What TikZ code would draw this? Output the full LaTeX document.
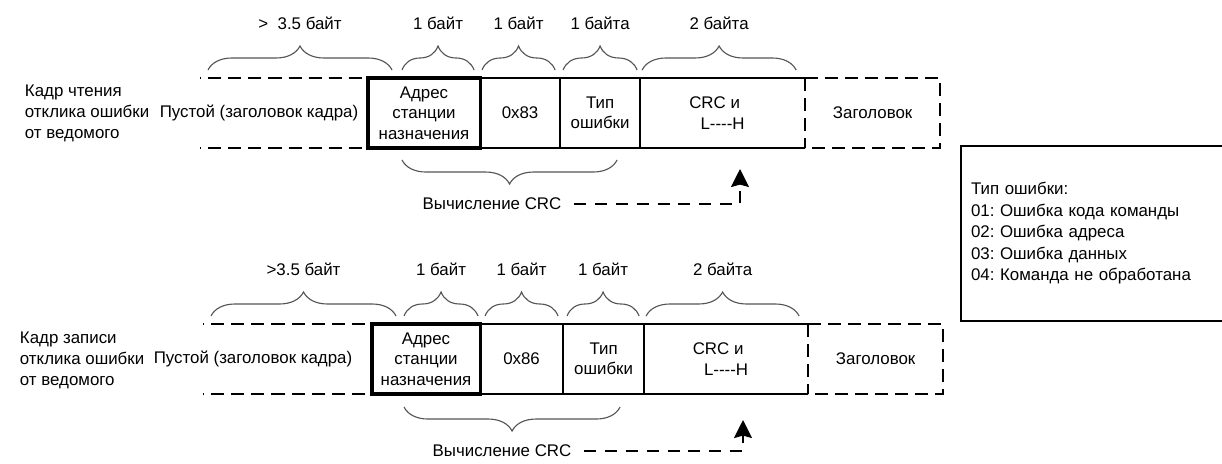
\documentclass[tikz,border=0pt]{standalone}
\usepackage{fontspec}
\setmainfont{Liberation Sans}[Ligatures=TeXOff]
\usetikzlibrary{arrows.meta, positioning, decorations.pathreplacing}
\definecolor{bracegrey}{HTML}{555555}

\begin{document}
\frenchspacing
\begin{tikzpicture}[x=0.025cm, y=-0.025cm,
    font=\fontsize{12}{14.5}\selectfont,
    cell/.style={minimum height=1.75cm, inner sep=0pt, outer sep=0pt, align=center},
    solidln/.style={line width=1.4pt},
    addrbox/.style={draw, line width=2.2pt},
    dashln/.style={line width=1.4pt, dash pattern=on 0.325cm off 0.175cm},
    gapdash/.style={dashln, dash phase=0.2875cm},
    bytebrace/.style={draw=bracegrey, line width=0.8pt, decorate,
                      decoration={brace, amplitude=0.6cm}},
    crcbrace/.style={bytebrace, decoration={brace, mirror, amplitude=0.6cm}},
    crcarrow/.style={line width=1.4pt, dash pattern=on 0.3cm off 0.22cm,
                     -{Stealth[length=0.45cm, width=0.45cm, inset=0.06cm]}},
    rowlabel/.style={anchor=west, align=left, font=\fontsize{12}{15}\selectfont},
    legendbox/.style={draw, line width=1.4pt, anchor=north west,
                      minimum width=6.75cm, minimum height=4.375cm,
                      text width=6.25cm, inner xsep=0pt, align=left,
                      font=\fontsize{12}{15.3}\selectfont}]
  \path[use as bounding box, clip] (0,0) rectangle (1222,463);

  % read frame
  \node[rowlabel] (r1name) at (20,113) {Кадр чтения\\отклика ошибки\\от ведомого};
  \node[cell, minimum width=4.2cm] (r1gap) at (284,113) {};
  \node (r1empty) at (259,113) {Пустой (заголовок кадра)};
  \node[cell, addrbox, minimum width=2.8cm, right=0pt of r1gap] (r1addr) {Адрес\\станции\\назначения};
  \node[cell, draw, solidln, minimum width=2cm, right=0pt of r1addr] (r1func) {0x83};
  \node[cell, draw, solidln, minimum width=2cm, right=0pt of r1func] (r1err) {Тип\\ошибки};
  \node[cell, minimum width=4.125cm, right=0pt of r1err] (r1crc) {CRC и\hspace*{0.4cm}\\L----H};
  \node[cell, minimum width=3.375cm, right=0pt of r1crc] (r1head) {Заголовок};
  \draw[gapdash] (r1gap.north west) -- (r1gap.north east);
  \draw[gapdash] (r1gap.south west) -- (r1gap.south east);
  \draw[solidln] (r1crc.north east) -- (r1crc.north west);
  \draw[solidln] (r1crc.south west) -- (r1crc.south east);
  \draw[dashln] (r1crc.north east) -- (r1crc.south east);
  \draw[dashln] (r1head.north west) -- (r1head.north east) -- (r1head.south east) -- (r1head.south west);

  \draw[bytebrace] ([shift={(8,-8)}]r1gap.north west) -- ([shift={(24,-8)}]r1addr.north west)
    node[midway, yshift=1.175cm] (r1sz0) {>\ \ 3.5 байт};
  \draw[bytebrace] ([shift={(34,-8)}]r1addr.north west) -- ([shift={(-6,-8)}]r1addr.north east)
    node[midway, yshift=1.175cm] (r1sz1) {1 байт};
  \draw[bytebrace] ([shift={(2,-8)}]r1func.north west) -- ([shift={(-5,-8)}]r1func.north east)
    node[midway, yshift=1.175cm] (r1sz2) {1 байт};
  \draw[bytebrace] ([shift={(3,-8)}]r1err.north west) -- ([shift={(-3,-8)}]r1err.north east)
    node[midway, yshift=1.175cm] (r1sz3) {1 байта};
  \draw[bytebrace] ([shift={(2,-8)}]r1crc.north west) -- ([shift={(-9,-8)}]r1crc.north east)
    node[midway, yshift=1.175cm] (r1sz4) {2 байта};

  \draw[crcbrace] ([shift={(34,12)}]r1addr.south west) -- ([shift={(-23,12)}]r1err.south east);
  \node (r1calc) at (492,204) {Вычисление CRC};
  \coordinate (r1tip) at (740,169);
  \draw[crcarrow] ([xshift=0.2cm]r1calc.east) -| (r1tip);

  % write frame
  \node[rowlabel] (r2name) at (15,360) {Кадр записи\\отклика ошибки\\от ведомого};
  \node[cell, minimum width=4.225cm] (r2gap) at (287.5,359) {};
  \node (r2empty) at (253,359) {Пустой (заголовок кадра)};
  \node[cell, addrbox, minimum width=2.7cm, right=0pt of r2gap] (r2addr) {Адрес\\станции\\назначения};
  \node[cell, draw, solidln, minimum width=2.075cm, right=0pt of r2addr] (r2func) {0x86};
  \node[cell, draw, solidln, minimum width=2.025cm, right=0pt of r2func] (r2err) {Тип\\ошибки};
  \node[cell, minimum width=4.1cm, right=0pt of r2err] (r2crc) {CRC и\hspace*{0.4cm}\\L----H};
  \node[cell, minimum width=3.375cm, right=0pt of r2crc] (r2head) {Заголовок};
  \draw[gapdash] (r2gap.north west) -- (r2gap.north east);
  \draw[gapdash] (r2gap.south west) -- (r2gap.south east);
  \draw[solidln] (r2crc.north east) -- (r2crc.north west);
  \draw[solidln] (r2crc.south west) -- (r2crc.south east);
  \draw[dashln] (r2crc.north east) -- (r2crc.south east);
  \draw[dashln] (r2head.north west) -- (r2head.north east) -- (r2head.south east) -- (r2head.south west);

  \draw[bytebrace] ([shift={(8,-8)}]r2gap.north west) -- ([shift={(24,-8)}]r2addr.north west)
    node[midway, yshift=1.175cm] (r2sz0) {>3.5 байт};
  \draw[bytebrace] ([shift={(32,-8)}]r2addr.north west) -- ([shift={(-2,-8)}]r2addr.north east)
    node[midway, yshift=1.175cm] (r2sz1) {1 байт};
  \draw[bytebrace] ([shift={(5,-8)}]r2func.north west) -- ([shift={(-5,-8)}]r2func.north east)
    node[midway, yshift=1.175cm] (r2sz2) {1 байт};
  \draw[bytebrace] ([shift={(4,-8)}]r2err.north west) -- ([shift={(-5,-8)}]r2err.north east)
    node[midway, yshift=1.175cm] (r2sz3) {1 байт};
  \draw[bytebrace] ([shift={(2,-8)}]r2crc.north west) -- ([shift={(-9,-8)}]r2crc.north east)
    node[midway, yshift=1.175cm] (r2sz4) {2 байта};

  \draw[crcbrace] ([shift={(32,13)}]r2addr.south west) -- ([shift={(-24,13)}]r2err.south east);
  \node (r2calc) at (502,451) {Вычисление CRC};
  \coordinate (r2tip) at (743,420);
  \draw[crcarrow] ([xshift=0.2cm]r2calc.east) -| (r2tip);

  % error codes
  \node[legendbox] (legend) at (960,145)
    {Тип ошибки:\\01: Ошибка кода команды\\02: Ошибка адреса\\03: Ошибка данных\\04: Команда не обработана};
\end{tikzpicture}
\end{document}
